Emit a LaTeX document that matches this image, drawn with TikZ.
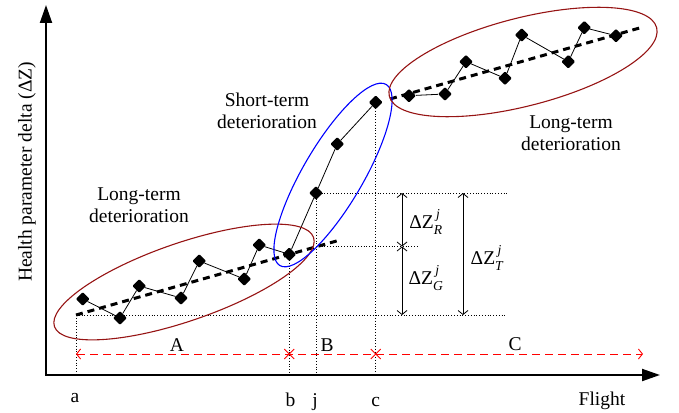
\documentclass[tikz,border=0pt]{standalone}
\usepackage{amsmath}
\usepackage{fontspec}
\setmainfont{Liberation Serif}
\usetikzlibrary{shapes.geometric,shapes.misc,arrows.meta}
\definecolor{ellred}{RGB}{150,20,20}
\definecolor{ellblue}{RGB}{0,0,255}
\definecolor{spanred}{RGB}{255,0,0}
\begin{document}
\begin{tikzpicture}[x=1pt,y=-1pt,
  font=\fontsize{19.5}{22.5}\selectfont,
  pt/.style={diamond,fill=black,inner sep=0pt,minimum width=14pt,minimum height=14pt,rounded corners=1.2pt},
  link/.style={line width=0.8pt},
  trend/.style={line width=3pt,dash pattern=on 7pt off 5pt},
  guide/.style={line width=0.7pt,dash pattern=on 1pt off 1.8pt},
  axisline/.style={line width=2pt,{Triangle[length=18pt,width=12pt]}-{Triangle[length=18pt,width=12pt]}},
  dimline/.style={line width=0.8pt,{Straight Barb[length=4pt,width=10pt]}-{Straight Barb[length=4pt,width=10pt]}},
  spanline/.style={draw=spanred,line width=0.9pt,dash pattern=on 8pt off 5pt,{Straight Barb[length=4pt,width=10pt]}-{Straight Barb[length=4pt,width=10pt]}},
  xmark/.style={cross out,draw=spanred,minimum size=9pt,inner sep=0pt,line width=0.9pt},
  region/.style={ellipse,inner sep=0pt,line width=1.1pt},
  lbl/.style={align=center,inner sep=0pt}
]
\useasboundingbox (0,0) rectangle (679,412);

% axes
\coordinate (ytop) at (46,5);
\coordinate (O) at (46,375);
\coordinate (xend) at (660,375);
\draw[axisline] (ytop) -- (O) -- (xend);
\node[rotate=90,inner sep=0pt] (ylab) at (27,172) {Health parameter delta (ΔZ)};

% data points
\node[pt] (p1) at (82.7,299) {};
\node[pt] (p2) at (120,318) {};
\node[pt] (p3) at (139.3,286) {};
\node[pt] (p4) at (181,298) {};
\node[pt] (p5) at (199.3,261) {};
\node[pt] (p6) at (244.3,279) {};
\node[pt] (p7) at (259.3,245) {};
\node[pt] (p8) at (289.3,254.3) {};
\node[pt] (p9) at (316,193) {};
\node[pt] (p10) at (337.3,144) {};
\node[pt] (p11) at (375.7,102.3) {};
\node[pt] (p12) at (409,95.7) {};
\node[pt] (p13) at (445,94) {};
\node[pt] (p14) at (466,61.7) {};
\node[pt] (p15) at (505,78.3) {};
\node[pt] (p16) at (521.7,35) {};
\node[pt] (p17) at (568.3,61.7) {};
\node[pt] (p18) at (584.3,27.7) {};
\node[pt] (p19) at (616,35.7) {};

% guide lines
\coordinate (a1) at (76,315);
\coordinate (h1) at (506,315);
\coordinate (h2) at (508,193);
\coordinate (m1) at (316,246.5);
\coordinate (m2) at (418,246.5);
\draw[guide] (a1) -- (h1);
\draw[guide] (a1) -- (a1 |- O);
\draw[guide] (p8.center) -- (p8.center |- O);
\draw[guide] (p9.center) -- (p9.center |- O);
\draw[guide] (p11.center) -- (p11.center |- O);
\draw[guide] (p9.center) -- (h2);
\draw[guide] (m1) -- (m2);

% polylines
\draw[link] (p1) -- (p2) -- (p3) -- (p4) -- (p5) -- (p6) -- (p7) -- (p8) -- (p9) -- (p10) -- (p11);
\draw[link] (p12) -- (p13) -- (p14) -- (p15) -- (p16) -- (p17) -- (p18) -- (p19);

% trend lines
\coordinate (tl1) at (76,315);
\coordinate (tl2) at (340,240);
\coordinate (tr1) at (390,99);
\coordinate (tr2) at (643,27);
\draw[trend] (tl1) -- (tl2);
\draw[trend] (tr1) -- (tr2);

% ellipses
\node[region,draw=ellred,minimum width=274pt,minimum height=78pt,rotate=19] (eL) at (184,282) {};
\node[region,draw=ellblue,minimum width=210pt,minimum height=60pt,rotate=59.6] (eB) at (333,175) {};
\node[region,draw=ellred,minimum width=276pt,minimum height=88pt,rotate=14.4] (eR) at (523,62) {};

% region labels
\node[lbl] (tL) at (139,205) {Long-term\\deterioration};
\node[lbl] (tS) at (267,111) {Short-term\\deterioration};
\node[lbl] (tR) at (571,133) {Long-term\\deterioration};

% dimension arrows
\coordinate (d1) at (402,193);
\coordinate (d2) at (402,246.5);
\coordinate (d3) at (402,315);
\coordinate (t1) at (463,193);
\coordinate (t2) at (463,315);
\draw[dimline] (d1) -- (d2);
\draw[dimline] (d2) -- (d3);
\draw[dimline] (t1) -- (t2);
\node[inner sep=0pt] (lR) at (426,222) {ΔZ$^{\,\textit{j}}_{\textit{R}}$};
\node[inner sep=0pt] (lG) at (426,278) {ΔZ$^{\,\textit{j}}_{\textit{G}}$};
\node[inner sep=0pt] (lT) at (487,258) {ΔZ$^{\,\textit{j}}_{\textit{T}}$};

% red spans
\coordinate (r1) at (76,354);
\coordinate (r2) at (643,354);
\draw[spanline] (r1) -- (r2);
\node[xmark] (xb) at (289.3,354) {};
\node[xmark] (xc) at (375.7,354) {};
\node[inner sep=0pt] (sA) at (177,345) {A};
\node[inner sep=0pt] (sB) at (327,345) {B};
\node[inner sep=0pt] (sC) at (515,344) {C};

% axis tick labels
\node[anchor=base,inner sep=0pt] (la) at (75,402) {a};
\node[anchor=base,inner sep=0pt] (lb) at (290.5,406) {b};
\node[anchor=base,inner sep=0pt] (lj) at (315,406) {j};
\node[anchor=base,inner sep=0pt] (lc) at (375.7,406) {c};
\node[anchor=base,inner sep=0pt] (lf) at (602,405) {Flight};
\end{tikzpicture}
\end{document}
